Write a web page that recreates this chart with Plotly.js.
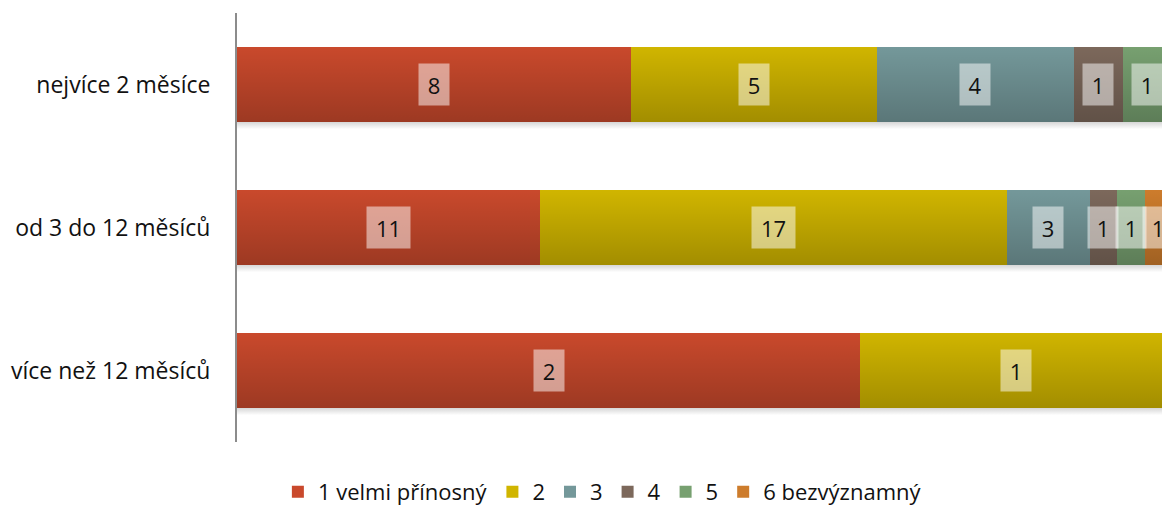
<!DOCTYPE html>
<html><head><meta charset="utf-8">
<script src="https://cdn.plot.ly/plotly-3.0.1.min.js"></script>
<style>html,body{margin:0;padding:0;background:#fff}#chart{width:1162px;height:506px}</style>
</head><body><div id="chart"></div>
<script>
var categories = ["nejvíce 2 měsíce", "od 3 do 12 měsíců", "více než 12 měsíců"];
var seriesNames = ["1 velmi přínosný", "2", "3", "4", "5", "6 bezvýznamný"];
var s1 = [8, 11, 2];
var s2 = [5, 17, 1];
var s3 = [4, 3, 0];
var s4 = [1, 1, 0];
var s5 = [1, 1, 0];
var s6 = [0, 1, 0];
var series = [s1, s2, s3, s4, s5, s6];
var colors = ["#C9492C", "#D0B500", "#74989A", "#7C685B", "#77A070", "#CD7C2C"];

var idx = categories.map(function(_, i){ return i; });
var totals = idx.map(function(i){ return series.reduce(function(a, s){ return a + s[i]; }, 0); });
var barWidth = 0.525;

var traces = [];
// soft shadow under each bar
idx.forEach(function(i){
  var y1 = i + barWidth/2, y2 = y1 + 0.05;
  traces.push({
    type: 'scatter', mode: 'lines', showlegend: false, hoverinfo: 'skip',
    x: [0, 1, 1, 0, 0], y: [y1, y1, y2, y2, y1],
    line: {width: 0}, fill: 'toself',
    fillgradient: {type: 'vertical', colorscale: [[0, 'rgba(0,0,0,0)'], [1, 'rgba(0,0,0,0.16)']]}
  });
});

series.forEach(function(vals, k){
  traces.push({
    type: 'bar', orientation: 'h', name: seriesNames[k],
    y: idx, x: vals.map(function(v, i){ return v / totals[i]; }),
    width: barWidth,
    marker: {color: colors[k], line: {width: 0}},
    hoverinfo: 'none'
  });
});

// vertical shading overlay to imitate the gradient
idx.forEach(function(i){
  var y0 = i - barWidth/2, y1 = i + barWidth/2;
  traces.push({
    type: 'scatter', mode: 'lines', showlegend: false, hoverinfo: 'skip',
    x: [0, 1, 1, 0, 0], y: [y0, y0, y1, y1, y0],
    line: {width: 0}, fill: 'toself',
    fillgradient: {type: 'vertical', colorscale: [[0, 'rgba(0,0,0,0.22)'], [1, 'rgba(0,0,0,0)']]}
  });
});

var annotations = [];
idx.forEach(function(i){
  var cum = 0;
  series.forEach(function(vals){
    var v = vals[i];
    if (v > 0) {
      var t = String(v);
      annotations.push({
        x: (cum + v/2) / totals[i], y: i, xref: 'x', yref: 'y',
        text: t, showarrow: false,
        font: {family: 'Open Sans, sans-serif', size: 22, color: '#111'},
        bgcolor: 'rgba(255,255,255,0.5)', borderpad: 0,
        width: t.length > 1 ? 43 : 30, height: 41, valign: 'middle'
      });
    }
    cum += v;
  });
});

var layout = {
  width: 1162, height: 506,
  margin: {l: 237, r: 0, t: 13, b: 64},
  paper_bgcolor: '#fff', plot_bgcolor: '#fff',
  barmode: 'stack',
  showlegend: true,
  legend: {orientation: 'h', x: 0.395, xanchor: 'center', xref: 'paper',
           y: 0.028, yref: 'container', yanchor: 'middle',
           font: {family: 'Open Sans, sans-serif', size: 22, color: '#111'}, traceorder: 'normal',
           itemwidth: 30},
  xaxis: {range: [0, 0.9893], showgrid: false, zeroline: false, showticklabels: false, showline: false, fixedrange: true},
  yaxis: {range: [2.5, -0.5], tickvals: idx, ticktext: categories, showgrid: false, zeroline: false,
          showline: true, linecolor: '#8c8c8c', linewidth: 2, ticks: '', ticklen: 0, ticklabelstandoff: 20,
          tickfont: {family: 'Open Sans, sans-serif', size: 23, color: '#111'}, automargin: false},
  annotations: annotations
};
Plotly.newPlot('chart', traces, layout, {displayModeBar: false, staticPlot: true});
</script></body></html>
